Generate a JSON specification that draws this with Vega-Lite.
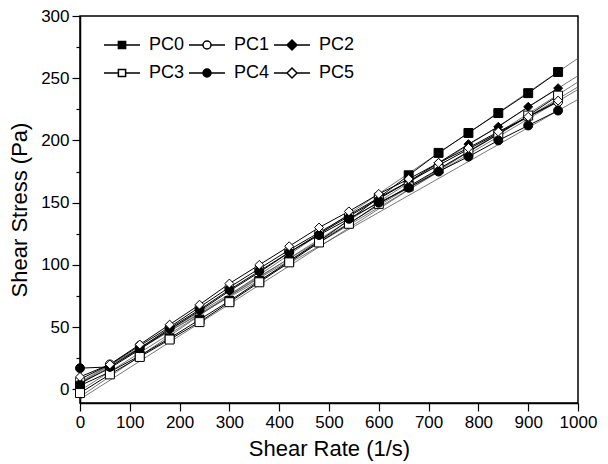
{
  "$schema": "https://vega.github.io/schema/vega-lite/v6.json",
  "autosize": "none",
  "width": 498,
  "height": 387,
  "padding": {"left": 80, "top": 16, "right": 30, "bottom": 61},
  "background": "white",
  "config": {
    "view": {"stroke": "black", "strokeWidth": 1.5},
    "font": "Liberation Sans",
    "axis": {
      "domainColor": "black", "domainWidth": 1.5, "tickColor": "black", "tickWidth": 1.2,
      "labelColor": "black", "titleColor": "black", "grid": false,
      "labelFont": "Liberation Sans", "titleFont": "Liberation Sans",
      "labelFontSize": 17, "titleFontSize": 22, "titleFontWeight": "normal", "labelOverlap": false, "labelFlush": false
    }
  },
  "datasets": {
    "pts": [
      {"series":"PC0","x":0,"y":3},{"series":"PC0","x":60,"y":14},{"series":"PC0","x":120,"y":27},{"series":"PC0","x":180,"y":41},{"series":"PC0","x":240,"y":56},{"series":"PC0","x":300,"y":71},{"series":"PC0","x":360,"y":87},{"series":"PC0","x":420,"y":103},{"series":"PC0","x":480,"y":119},{"series":"PC0","x":540,"y":136},{"series":"PC0","x":600,"y":154},{"series":"PC0","x":660,"y":172},{"series":"PC0","x":720,"y":190},{"series":"PC0","x":780,"y":206},{"series":"PC0","x":840,"y":222},{"series":"PC0","x":900,"y":238},{"series":"PC0","x":960,"y":255},
      {"series":"PC1","x":0,"y":8},{"series":"PC1","x":60,"y":20},{"series":"PC1","x":120,"y":35},{"series":"PC1","x":180,"y":50},{"series":"PC1","x":240,"y":66},{"series":"PC1","x":300,"y":82},{"series":"PC1","x":360,"y":97},{"series":"PC1","x":420,"y":112},{"series":"PC1","x":480,"y":126},{"series":"PC1","x":540,"y":140},{"series":"PC1","x":600,"y":154},{"series":"PC1","x":660,"y":167},{"series":"PC1","x":720,"y":180},{"series":"PC1","x":780,"y":193},{"series":"PC1","x":840,"y":206},{"series":"PC1","x":900,"y":219},{"series":"PC1","x":960,"y":231},
      {"series":"PC2","x":0,"y":5},{"series":"PC2","x":60,"y":17},{"series":"PC2","x":120,"y":32},{"series":"PC2","x":180,"y":48},{"series":"PC2","x":240,"y":63},{"series":"PC2","x":300,"y":79},{"series":"PC2","x":360,"y":94},{"series":"PC2","x":420,"y":110},{"series":"PC2","x":480,"y":125},{"series":"PC2","x":540,"y":139},{"series":"PC2","x":600,"y":153},{"series":"PC2","x":660,"y":167},{"series":"PC2","x":720,"y":182},{"series":"PC2","x":780,"y":197},{"series":"PC2","x":840,"y":211},{"series":"PC2","x":900,"y":227},{"series":"PC2","x":960,"y":242},
      {"series":"PC3","x":0,"y":-3},{"series":"PC3","x":60,"y":12},{"series":"PC3","x":120,"y":26},{"series":"PC3","x":180,"y":40},{"series":"PC3","x":240,"y":54},{"series":"PC3","x":300,"y":70},{"series":"PC3","x":360,"y":86},{"series":"PC3","x":420,"y":102},{"series":"PC3","x":480,"y":118},{"series":"PC3","x":540,"y":133},{"series":"PC3","x":600,"y":149},{"series":"PC3","x":660,"y":163},{"series":"PC3","x":720,"y":177},{"series":"PC3","x":780,"y":191},{"series":"PC3","x":840,"y":205},{"series":"PC3","x":900,"y":220},{"series":"PC3","x":960,"y":236},
      {"series":"PC4","x":0,"y":17},{"series":"PC4","x":60,"y":18},{"series":"PC4","x":120,"y":33},{"series":"PC4","x":180,"y":49},{"series":"PC4","x":240,"y":64},{"series":"PC4","x":300,"y":80},{"series":"PC4","x":360,"y":95},{"series":"PC4","x":420,"y":110},{"series":"PC4","x":480,"y":124},{"series":"PC4","x":540,"y":137},{"series":"PC4","x":600,"y":150},{"series":"PC4","x":660,"y":162},{"series":"PC4","x":720,"y":175},{"series":"PC4","x":780,"y":187},{"series":"PC4","x":840,"y":200},{"series":"PC4","x":900,"y":212},{"series":"PC4","x":960,"y":224},
      {"series":"PC5","x":0,"y":10},{"series":"PC5","x":60,"y":20},{"series":"PC5","x":120,"y":36},{"series":"PC5","x":180,"y":52},{"series":"PC5","x":240,"y":68},{"series":"PC5","x":300,"y":85},{"series":"PC5","x":360,"y":100},{"series":"PC5","x":420,"y":115},{"series":"PC5","x":480,"y":130},{"series":"PC5","x":540,"y":143},{"series":"PC5","x":600,"y":157},{"series":"PC5","x":660,"y":169},{"series":"PC5","x":720,"y":182},{"series":"PC5","x":780,"y":194},{"series":"PC5","x":840,"y":207},{"series":"PC5","x":900,"y":219},{"series":"PC5","x":960,"y":232}
    ],
    "fits": [
      {"series":"PC0","x":0,"y":-6},{"series":"PC0","x":1000,"y":266},
      {"series":"PC1","x":0,"y":4},{"series":"PC1","x":1000,"y":241},
      {"series":"PC2","x":0,"y":-1},{"series":"PC2","x":1000,"y":252},
      {"series":"PC3","x":0,"y":-8},{"series":"PC3","x":1000,"y":247},
      {"series":"PC4","x":0,"y":6},{"series":"PC4","x":1000,"y":233},
      {"series":"PC5","x":0,"y":5},{"series":"PC5","x":1000,"y":243}
    ]
  },
  "encoding": {
    "x": {"field": "x", "type": "quantitative", "scale": {"domain": [0, 1000], "nice": false},
      "axis": {"values": [0,100,200,300,400,500,600,700,800,900,1000], "format": "d", "tickSize": 8, "labelPadding": 3, "title": "Shear Rate (1/s)", "titlePadding": 8}},
    "y": {"field": "y", "type": "quantitative", "scale": {"domain": [-11, 300], "nice": false, "zero": false},
      "axis": {"values": [0,25,50,75,100,125,150,175,200,225,250,275,300],
        "labelExpr": "datum.value % 50 === 0 ? datum.label : ''",
        "tickSize": {"condition": {"test": "datum.value % 50 === 0", "value": 8}, "value": 4},
        "labelPadding": 3, "title": "Shear Stress (Pa)", "titlePadding": 9}}
  },
  "resolve": {"scale": {"shape": "independent", "fill": "independent"}, "legend": {"shape": "independent", "fill": "independent"}},
  "layer": [
    {
      "data": {"name": "fits"},
      "mark": {"type": "line", "color": "#555555", "strokeWidth": 0.8, "clip": true},
      "encoding": {"detail": {"field": "series"}}
    },
    {
      "data": {"name": "pts"},
      "mark": {"type": "line", "color": "black", "strokeWidth": 1},
      "encoding": {"detail": {"field": "series"}}
    },
    {
      "data": {"name": "pts"},
      "mark": {"type": "point", "stroke": "black", "strokeWidth": 1, "size": 80, "opacity": 1},
      "encoding": {
        "shape": {"field": "series", "type": "nominal",
          "scale": {"domain": ["PC0","PC1","PC2","PC3","PC4","PC5"], "range": ["square","circle","diamond","square","circle","diamond"]},
          "legend": null},
        "fill": {"field": "series", "type": "nominal",
          "scale": {"domain": ["PC0","PC1","PC2","PC3","PC4","PC5"], "range": ["black","white","black","white","black","white"]},
          "legend": null}
      }
    },
    {
      "data": {"name": "pts"},
      "transform": [{"filter": "datum.x > 5000"}],
      "mark": {"type": "point", "stroke": "black", "strokeWidth": 1, "size": 100, "opacity": 1},
      "encoding": {
        "shape": {"field": "series", "type": "nominal",
          "scale": {"domain": ["PC0","PC1","PC2","PC3","PC4","PC5"],
            "range": [
              "M-3.6,0H-0.72M0.72,0H3.6M-0.72,-0.72H0.72V0.72H-0.72Z",
              "M-3.6,0H-0.8M0.8,0H3.6M-0.8,0A0.8,0.8 0 1,0 0.8,0A0.8,0.8 0 1,0 -0.8,0Z",
              "M-3.6,0H-1M1,0H3.6M-1,0L0,-1L1,0L0,1Z",
              "M-3.6,0H-0.72M0.72,0H3.6M-0.72,-0.72H0.72V0.72H-0.72Z",
              "M-3.6,0H-0.8M0.8,0H3.6M-0.8,0A0.8,0.8 0 1,0 0.8,0A0.8,0.8 0 1,0 -0.8,0Z",
              "M-3.6,0H-1M1,0H3.6M-1,0L0,-1L1,0L0,1Z"
            ]},
          "legend": {
            "title": null, "orient": "none", "legendX": 20, "legendY": 20, "direction": "horizontal", "columns": 3,
            "symbolSize": 100, "symbolOffset": 13, "labelOffset": 18, "columnPadding": -4, "rowPadding": 10,
            "labelFontSize": 18, "labelFont": "Liberation Sans", "labelColor": "black"
          }},
        "fill": {"field": "series", "type": "nominal",
          "scale": {"domain": ["PC0","PC1","PC2","PC3","PC4","PC5"], "range": ["black","white","black","white","black","white"]},
          "legend": null}
      }
    }
  ]
}
